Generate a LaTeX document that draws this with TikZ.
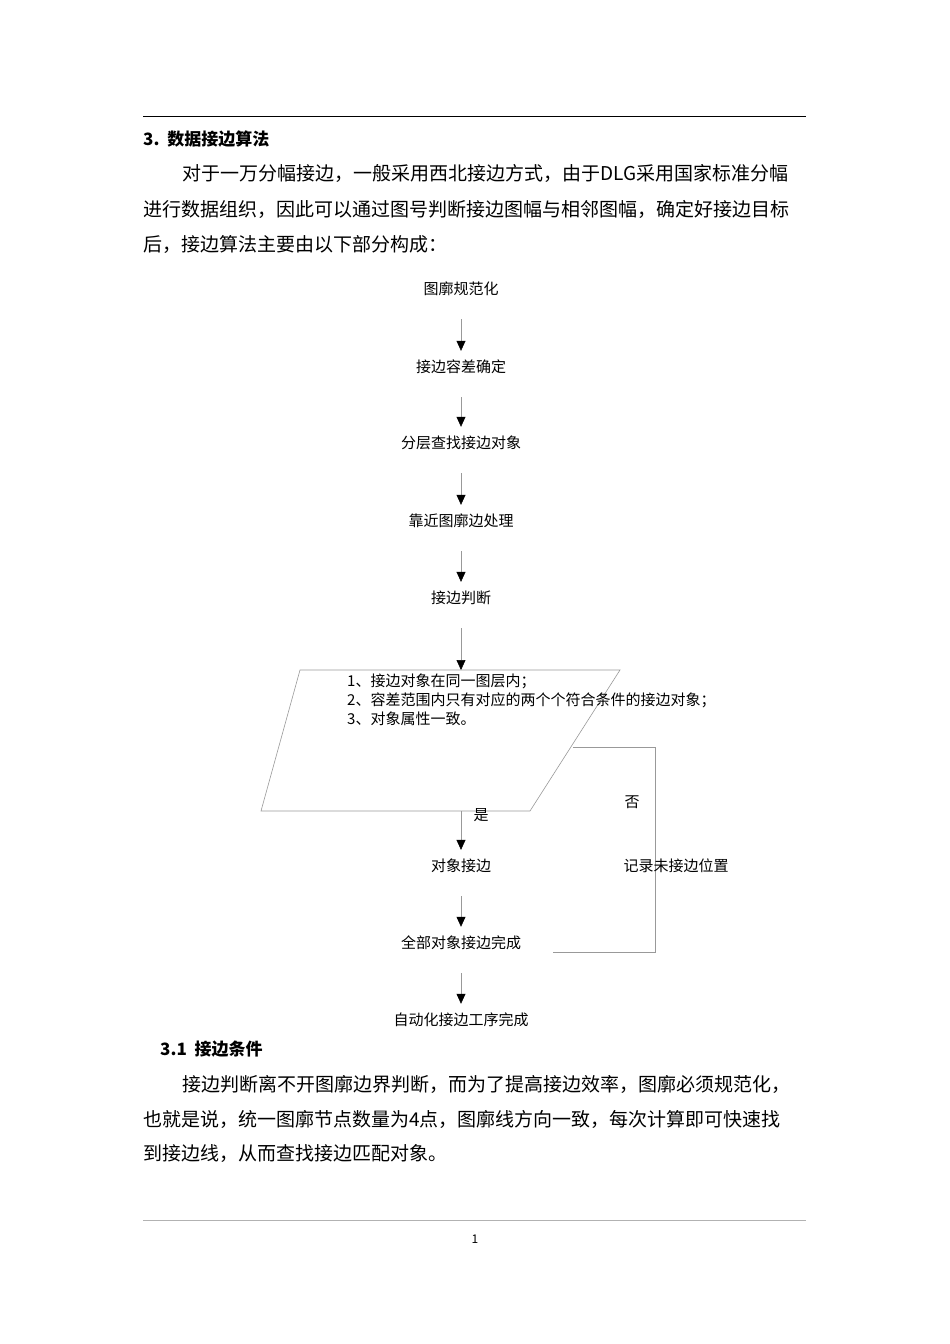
\documentclass[tikz,border=0pt]{standalone}
\usepackage{fontspec}
\setmainfont{Noto Sans CJK SC}
\usetikzlibrary{arrows.meta}
\begin{document}
\begin{tikzpicture}[x=1pt,y=-1pt,
  body/.style={anchor=west,inner sep=0pt,font=\fontsize{19}{22}\selectfont},
  head/.style={anchor=west,inner sep=0pt,font=\fontsize{17}{20}\selectfont\bfseries},
  fc/.style={inner sep=0pt,font=\fontsize{15}{18}\selectfont},
  ln/.style={draw=gray!80,line width=0.6pt},
  arr/.style={ln,-{Triangle[black,width=9pt,length=10pt]}}]
\useasboundingbox (0,0) rectangle (950,1344);
\fill[white] (0,0) rectangle (950,1344);
\coordinate (hl) at (143,116); \coordinate (hr) at (806,116);
\draw[line width=0.8pt] (hl) -- (hr);
\node[head] (h3) at (143,139) {3.\ \ 数据接边算法};
\node[body] (p1) at (182,173) {对于一万分幅接边，一般采用西北接边方式，由于DLG采用国家标准分幅};
\node[body] (p2) at (143,209) {进行数据组织，因此可以通过图号判断接边图幅与相邻图幅，确定好接边目标};
\node[body] (p3) at (143,244) {后，接边算法主要由以下部分构成：};
% flowchart
\node[fc] (a) at (461,289) {图廓规范化};
\node[fc] (b) at (461,367) {接边容差确定};
\node[fc] (c) at (461,443) {分层查找接边对象};
\node[fc] (d) at (461,521) {靠近图廓边处理};
\node[fc] (e) at (461,598) {接边判断};
\draw[arr] ([yshift=-23pt]a.south) -- ([yshift=9pt]b.north);
\draw[arr] ([yshift=-23pt]b.south) -- ([yshift=9pt]c.north);
\draw[arr] ([yshift=-23pt]c.south) -- ([yshift=9pt]d.north);
\draw[arr] ([yshift=-23pt]d.south) -- ([yshift=9pt]e.north);
\coordinate (ptl) at (300,670); \coordinate (ptr) at (620,670);
\coordinate (pbr) at (530,811); \coordinate (pbl) at (261,811);
\draw[ln] (ptl) -- (ptr) -- (pbr) -- (pbl) -- cycle;
\coordinate (ptop) at (461,670); \coordinate (pbot) at (461,811);
\draw[arr] ([yshift=-23pt]e.south) -- (ptop);
\node[fc,anchor=west] (t1) at (347,681) {1、接边对象在同一图层内；};
\node[fc,anchor=west] (t2) at (347,700) {2、容差范围内只有对应的两个个符合条件的接边对象；};
\node[fc,anchor=west] (t3) at (347,719) {3、对象属性一致。};
\node[fc] (f) at (461,866) {对象接边};
\node[fc] (g) at (461,943) {全部对象接边完成};
\node[fc] (h) at (461,1020) {自动化接边工序完成};
\draw[arr] (pbot) -- ([yshift=9pt]f.north);
\node[fc] (yes) at (481,815) {是};
\draw[arr] ([yshift=-23pt]f.south) -- ([yshift=9pt]g.north);
\draw[arr] ([yshift=-23pt]g.south) -- ([yshift=9pt]h.north);
\coordinate (lr) at (573,747); \coordinate (c1) at (655,747);
\coordinate (c2) at (655,952); \coordinate (c3) at (553,952);
\draw[ln] (lr) -- (c1) -- (c2) -- (c3);
\node[fc] (no) at (632,802) {否};
\node[fc] (rec) at (676,866) {记录未接边位置};
% section 3.1
\node[head] (h31) at (160,1049) {3.1\ \ 接边条件};
\node[body] (q1) at (182,1084) {接边判断离不开图廓边界判断，而为了提高接边效率，图廓必须规范化，};
\node[body] (q2) at (143,1119) {也就是说，统一图廓节点数量为4点，图廓线方向一致，每次计算即可快速找};
\node[body] (q3) at (143,1153) {到接边线，从而查找接边匹配对象。};
\coordinate (fl) at (143,1220); \coordinate (fr) at (806,1220);
\draw[gray!60,line width=0.6pt] (fl) -- (fr);
\node[fc,font=\fontsize{12}{14}\selectfont] (pg) at (475,1239) {1};
\end{tikzpicture}
\end{document}
